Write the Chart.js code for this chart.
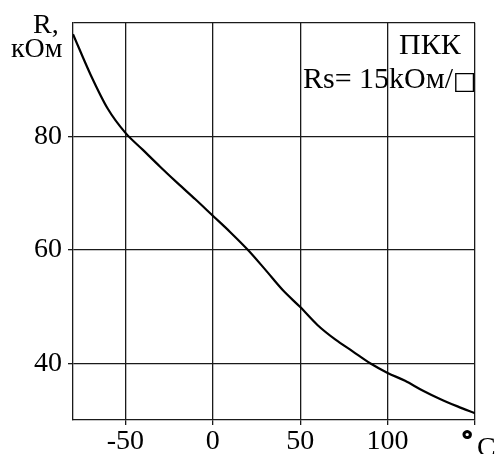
<!DOCTYPE html>
<html>
<head>
<meta charset="utf-8">
<script src="https://cdn.jsdelivr.net/npm/chart.js@4"></script>
<style>
  html, body { margin: 0; padding: 0; background: #fff; }
  #wrap { position: relative; width: 496px; height: 454px; }
</style>
</head>
<body>
<div id="wrap"><canvas id="rChart"></canvas></div>
<script>
// Temperature (°C) and resistance (kOhm)
const temps = [-80, -70, -60, -50, -40, -30, -20, -10, 0, 10, 20, 30, 40, 50, 60, 70, 80, 90, 100, 110, 120, 130, 140, 150];
const resist = [98.0, 90.9, 84.8, 80.6, 77.6, 74.6, 71.7, 68.9, 66.0, 63.1, 60.0, 56.5, 52.9, 49.9, 46.7, 44.2, 42.1, 40.0, 38.3, 36.9, 35.2, 33.7, 32.4, 31.2];

const xTicks = [-50, 0, 50, 100, 150];
const yTicks = [40, 60, 80, 100];
const xTickLabels = ['-50', '0', '50', '100', ''];
const yTickLabels = ['40', '60', '80', ''];

const serif = '"Liberation Serif", "Times New Roman", serif';
const ink = '#1a1a1a';

// captions and the legend text are drawn straight onto the canvas
const captions = {
    id: 'captions',
    afterDraw(chart) {
        const c = chart.ctx;
        c.save();
        c.fillStyle = '#000';
        c.strokeStyle = '#000';
        c.textAlign = 'left';
        c.textBaseline = 'alphabetic';

        c.font = '28px ' + serif;
        c.fillText('R,', 33, 33);
        c.fillText('кОм', 11, 57);

        c.font = '30px ' + serif;
        c.fillText('ПКК', 399, 54);
        const txt = 'Rs= 15kОм/';
        const w = c.measureText(txt).width;
        c.fillText(txt, 303, 88);
        c.font = '25px "DejaVu Sans", sans-serif';
        c.fillText('□', Math.min(303 + w, 453), 89);

        // heavy degree ring, as in the original
        c.font = 'bold 26px ' + serif;
        c.lineWidth = 1.6;
        c.fillText('°', 462, 447);
        c.strokeText('°', 462, 447);
        c.font = '28px ' + serif;
        c.fillText('C', 477, 456);
        c.restore();
    }
};

const ctx = document.getElementById('rChart').getContext('2d');

new Chart(ctx, {
    type: 'line',
    data: {
        datasets: [{
            data: temps.map((t, i) => ({ x: t, y: resist[i] })),
            borderColor: '#000',
            borderWidth: 2.2,
            pointRadius: 0,
            fill: false,
            cubicInterpolationMode: 'monotone'
        }]
    },
    options: {
        responsive: true,
        maintainAspectRatio: false,
        animation: false,
        layout: { padding: { top: 20, right: 21, left: 0, bottom: 0 } },
        plugins: {
            legend: { display: false },
            tooltip: { enabled: false }
        },
        scales: {
            x: {
                type: 'linear',
                min: -80,
                max: 150,
                afterBuildTicks: s => { s.ticks = xTicks.map(v => ({ value: v })); },
                afterFit: s => { s.height = 34; },
                grid: { color: ink, lineWidth: 1.3, tickLength: 5, tickColor: ink },
                border: { color: ink, width: 1.3 },
                ticks: {
                    color: '#000',
                    padding: 0,
                    maxRotation: 0,
                    autoSkip: false,
                    font: { family: serif, size: 28 },
                    callback: (v) => xTickLabels[xTicks.indexOf(v)]
                }
            },
            y: {
                type: 'linear',
                min: 30,
                max: 100,
                afterBuildTicks: s => { s.ticks = yTicks.map(v => ({ value: v })); },
                afterFit: s => { s.width = 73; },
                grid: {
                    color: ink,
                    lineWidth: 1.3,
                    tickLength: 5,
                    tickColor: c => (c.tick && c.tick.value === 100 ? 'rgba(0,0,0,0)' : ink)
                },
                border: { color: ink, width: 1.3 },
                ticks: {
                    color: '#000',
                    padding: 6,
                    autoSkip: false,
                    font: { family: serif, size: 28 },
                    callback: (v) => yTickLabels[yTicks.indexOf(v)]
                }
            }
        }
    },
    plugins: [captions]
});
</script>
</body>
</html>
